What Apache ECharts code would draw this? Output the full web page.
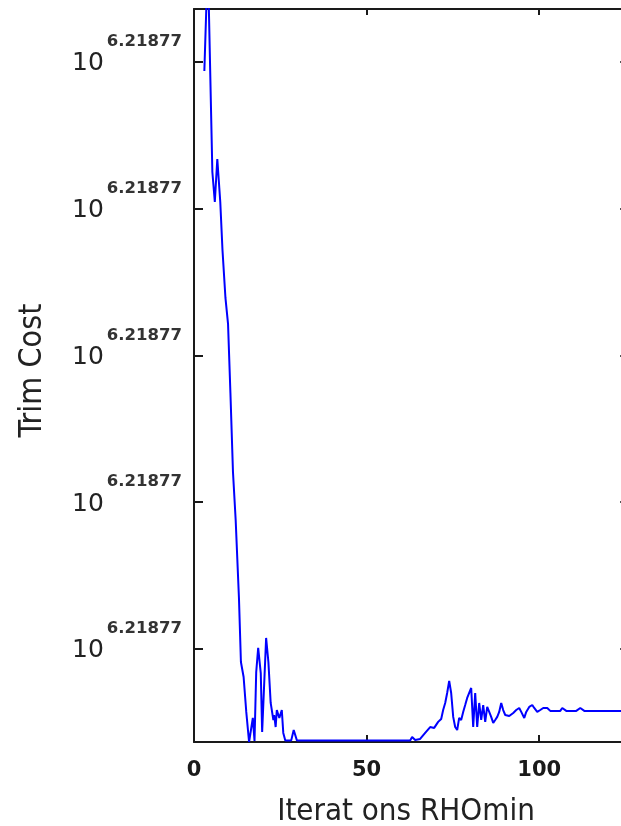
<!DOCTYPE html>
<html>
<head>
<meta charset="utf-8">
<script src="https://cdn.jsdelivr.net/npm/echarts@6/dist/echarts.min.js"></script>
<style>
  html, body { margin: 0; padding: 0; background: #ffffff; }
  #chart { width: 621px; height: 826px; }
</style>
</head>
<body>
<div id="chart"></div>
<script>
// Iteration number (x) of each vertex
const iterations = [
  3.0, 4.0, 5.32, 6.03, 6.75, 7.61, 8.25, 9.11, 9.86, 10.55, 11.29, 12.07, 13.02, 13.59, 14.37, 15.14,
  15.95, 16.38, 17.04, 17.53, 18.02, 18.59, 19.34, 19.74, 20.89, 21.55, 22.21, 22.99, 23.22, 23.65,
  23.99, 24.71, 25.43, 25.86, 26.44, 28.16, 28.88, 29.80, 62.61, 63.18, 64.06, 65.50, 66.96, 68.41,
  69.57, 70.72, 71.60, 72.17, 72.76, 73.33, 73.92, 74.49, 75.08, 75.65, 76.23, 76.81, 77.39, 77.97,
  78.55, 79.13, 79.71, 80.29, 80.87, 81.45, 82.03, 82.61, 83.19, 83.77, 84.35, 84.93, 85.51, 86.08,
  86.67, 87.24, 87.83, 88.40, 88.99, 89.56, 90.15, 91.31, 92.47, 93.33, 94.20, 94.79, 95.66, 96.23,
  97.10, 97.98, 98.55, 99.42, 100.30, 101.16, 102.32, 103.19, 106.09, 106.67, 107.83, 110.73, 111.89,
  113.05, 126.0
];
// Trim cost, in units of the (identical-looking) y tick spacing
const trimCost = [
  4.939, 5.695, 4.250, 4.046, 4.339, 4.046, 3.719, 3.392, 3.215, 2.744, 2.206, 1.879, 1.348, 0.911, 0.809, 0.571,
  0.366, 0.366, 0.530, 0.373, 0.843, 1.007, 0.836, 0.434, 1.075, 0.911, 0.632, 0.516, 0.550, 0.468,
  0.584, 0.530, 0.584, 0.428, 0.377, 0.377, 0.448, 0.377, 0.377, 0.400, 0.380, 0.387, 0.428, 0.468,
  0.462, 0.503, 0.523, 0.584, 0.632, 0.700, 0.782, 0.700, 0.537, 0.468, 0.448, 0.530, 0.516, 0.571,
  0.618, 0.666, 0.700, 0.734, 0.468, 0.700, 0.468, 0.632, 0.516, 0.618, 0.503, 0.605, 0.571, 0.537,
  0.496, 0.516, 0.537, 0.571, 0.632, 0.584, 0.550, 0.543, 0.564, 0.584, 0.598, 0.571, 0.530, 0.571,
  0.605, 0.618, 0.598, 0.571, 0.584, 0.598, 0.598, 0.578, 0.578, 0.598, 0.578, 0.578, 0.598,
  0.578, 0.578
];
const yTickValues = [1, 2, 3, 4, 5];
const yTickBase = '10';
const yTickExponent = '6.21877';
const xMin = 0, xMax = 126, xStep = 50;
const yMin = 0.366, yMax = 5.361;
const xTitle = 'Iterat ons RHOmin';
const yTitle = 'Trim Cost';

const axisColor = '#1a1a1a';
const titleFont = "'Liberation Sans Narrow', 'DejaVu Sans Condensed', sans-serif";
const chart = echarts.init(document.getElementById('chart'), null, { renderer: 'canvas' });

const lineData = iterations.map((x, k) => [x, trimCost[k]]);

chart.setOption({
  animation: false,
  backgroundColor: '#ffffff',
  grid: { left: 194, right: -8, top: 9, bottom: 84, outerBoundsMode: 'none', containLabel: false },
  xAxis: [
    {
      type: 'value', position: 'bottom', min: xMin, max: xMax, interval: xStep,
      axisLine: { show: true, onZero: false, lineStyle: { color: axisColor, width: 2 } },
      axisTick: { show: true, inside: true, length: 7, lineStyle: { color: axisColor, width: 2 } },
      axisLabel: { show: true, margin: 18, color: '#1a1a1a', fontFamily: 'DejaVu Sans', fontWeight: 'bold', fontSize: 21, showMaxLabel: false },
      splitLine: { show: false },
      name: xTitle, nameLocation: 'middle', nameGap: 54,
      nameTextStyle: { fontFamily: titleFont, fontSize: 31, color: '#222', padding: [0, 11, 0, 0] }
    },
    {
      type: 'value', position: 'top', min: xMin, max: xMax, interval: xStep,
      axisLine: { show: true, onZero: false, lineStyle: { color: axisColor, width: 2 } },
      axisTick: { show: true, inside: true, length: 6, lineStyle: { color: axisColor, width: 2 } },
      axisLabel: { show: false },
      splitLine: { show: false }
    }
  ],
  yAxis: [
    {
      type: 'value', position: 'left', min: yMin, max: yMax,
      axisLine: { show: true, onZero: false, lineStyle: { color: axisColor, width: 2 } },
      axisTick: { show: true, inside: true, length: 9, customValues: yTickValues, lineStyle: { color: axisColor, width: 2 } },
      axisLabel: {
        show: true, margin: 12, customValues: yTickValues,
        formatter: () => '{b|' + yTickBase + '}{s|' + yTickExponent + '}',
        rich: {
          b: { fontFamily: 'DejaVu Sans', fontSize: 25, lineHeight: 26, color: '#222', padding: [4, 0, 0, 0] },
          s: { fontFamily: 'DejaVu Sans', fontWeight: 'bold', fontSize: 16.5, lineHeight: 16, color: '#333', padding: [0, 0, 40, 3] }
        }
      },
      splitLine: { show: false },
      name: yTitle, nameLocation: 'middle', nameGap: 145, nameRotate: 90,
      nameTextStyle: { fontFamily: titleFont, fontSize: 32, color: '#222', padding: [0, 0, 0, 10] }
    },
    {
      type: 'value', position: 'right', min: yMin, max: yMax,
      axisLine: { show: true, onZero: false, lineStyle: { color: axisColor, width: 2 } },
      axisTick: { show: true, inside: true, length: 9, customValues: yTickValues, lineStyle: { color: '#555', width: 2 } },
      axisLabel: { show: false },
      splitLine: { show: false }
    }
  ],
  series: [
    {
      type: 'line', xAxisIndex: 0, yAxisIndex: 0,
      data: lineData, showSymbol: false, symbol: 'none', clip: true,
      lineStyle: { color: '#0000ff', width: 2 }
    }
  ]
});
</script>
</body>
</html>
